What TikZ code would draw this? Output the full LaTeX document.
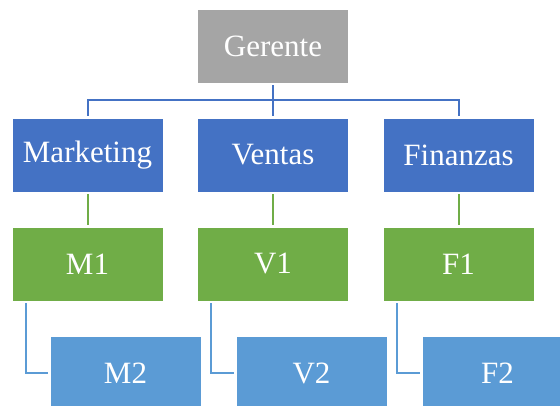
\documentclass[tikz,border=0pt]{standalone}
\usepackage{fontspec}
\setmainfont{Liberation Serif}
\usepackage{tikz}
\usetikzlibrary{positioning}

\definecolor{jefegris}{HTML}{A5A5A5}
\definecolor{areaazul}{HTML}{4472C4}
\definecolor{subverde}{HTML}{70AD47}
\definecolor{subazul}{HTML}{5B9BD5}

\tikzset{
    caja/.style={rectangle, draw=white, line width=0.8pt, text=white,
        minimum width=151pt, minimum height=74pt, inner sep=0pt,
        font=\fontsize{31}{36}\selectfont},
    enlace/.style={line width=2pt, shorten <=2pt, shorten >=2pt}
}

\begin{document}
\begin{tikzpicture}[x=1pt,y=-1pt]
    \useasboundingbox (0,0) rectangle (560,406);
    % jefe
    \node[caja,fill=jefegris] (ger) at (273,46) {Gerente};
    % areas
    \node[caja,fill=areaazul] (mkt) at (87.5,155) {Marketing};
    \node[caja,fill=areaazul] (ven) at (273,155) {Ventas};
    \node[caja,fill=areaazul] (fin) at (458.5,155) {Finanzas};
    % primer nivel
    \node[caja,fill=subverde] (m1) at (87.5,264) {M1};
    \node[caja,fill=subverde] (v1) at (273,264) {V1};
    \node[caja,fill=subverde] (f1) at (458.5,264) {F1};
    % segundo nivel
    \node[caja,fill=subazul] (m2) at (125.5,373) {M2};
    \node[caja,fill=subazul] (v2) at (311.5,373) {V2};
    \node[caja,fill=subazul] (f2) at (497.5,373) {F2};
    % conexiones
    \draw[enlace,areaazul] (ger.south) -- ++(0,17) -| (mkt.north);
    \draw[enlace,areaazul] (ger.south) -- (ven.north);
    \draw[enlace,areaazul] (ger.south) -- ++(0,17) -| (fin.north);
    \draw[enlace,subverde] (mkt) -- (m1);
    \draw[enlace,subverde] (ven) -- (v1);
    \draw[enlace,subverde] (fin) -- (f1);
    \draw[enlace,subazul] ([xshift=14pt]m1.south west) |- (m2.west);
    \draw[enlace,subazul] ([xshift=14pt]v1.south west) |- (v2.west);
    \draw[enlace,subazul] ([xshift=14pt]f1.south west) |- (f2.west);
\end{tikzpicture}
\end{document}
